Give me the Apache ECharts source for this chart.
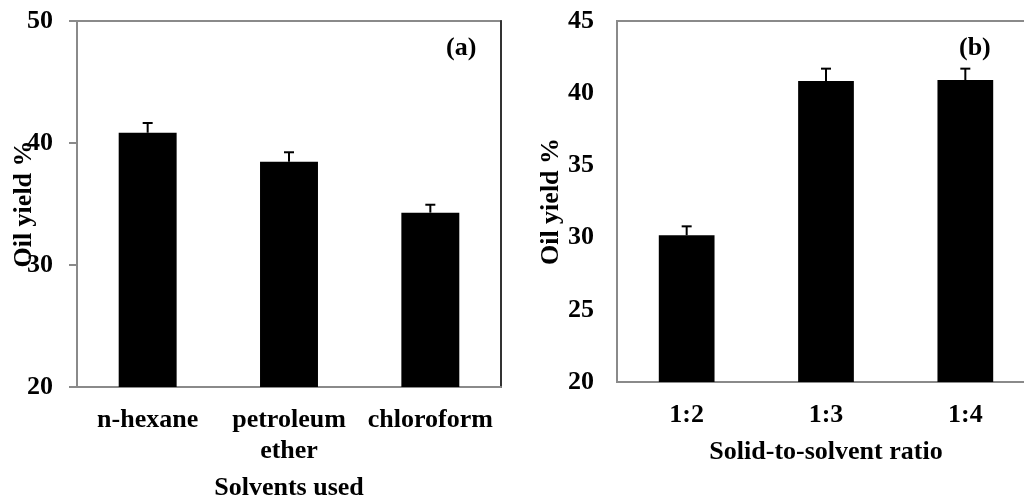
<!DOCTYPE html>
<html>
<head>
<meta charset="utf-8">
<script src="https://cdn.jsdelivr.net/npm/echarts@6/dist/echarts.min.js"></script>
<style>html,body{margin:0;padding:0;background:#fff;}#c{width:1024px;height:501px;}</style>
</head>
<body>
<div id="c"></div>
<script>
var solventCats = ['n-hexane', 'petroleum\nether', 'chloroform'];
var solventYield = [40.84, 38.47, 34.29];
var solventErr = [0.80, 0.77, 0.65];
var ratioCats = ['1:2', '1:3', '1:4'];
var ratioYield = [30.16, 40.84, 40.91];
var ratioErr = [0.62, 0.86, 0.79];
var yTicksA = [20, 30, 40, 50];
var yTicksB = [20, 25, 30, 35, 40, 45];

var FONT = '"Liberation Serif", "Times New Roman", serif';
var txt = {fontFamily: FONT, fontWeight: 'bold', fontSize: 26, color: '#000'};
var gray = '#8a8a8a';

function errData(vals, errs) {
  return vals.map(function (v, i) { return [i, v, errs[i]]; });
}
function errRender(params, api) {
  var x = api.value(0), v = api.value(1), e = api.value(2);
  var p0 = api.coord([x, v]);
  var p1 = api.coord([x, v + e]);
  var half = 5;
  return {
    type: 'group',
    children: [
      {type: 'line', shape: {x1: p0[0], y1: p0[1], x2: p1[0], y2: p1[1]}, style: {stroke: '#000', lineWidth: 2}},
      {type: 'line', shape: {x1: p1[0] - half, y1: p1[1], x2: p1[0] + half, y2: p1[1]}, style: {stroke: '#000', lineWidth: 2}}
    ]
  };
}

var chart = echarts.init(document.getElementById('c'), null, {renderer: 'canvas'});
chart.setOption({
  animation: false,
  grid: [
    {left: 77, top: 21, width: 424, height: 366, show: true, borderColor: gray, borderWidth: 2, containLabel: false, outerBoundsMode: 'none'},
    {left: 617, top: 21, width: 418, height: 361, show: true, borderColor: gray, borderWidth: 2, containLabel: false, outerBoundsMode: 'none'}
  ],
  xAxis: [
    {type: 'category', gridIndex: 0, data: solventCats,
     axisLine: {lineStyle: {color: gray, width: 2}}, axisTick: {show: false},
     axisLabel: Object.assign({margin: 18, lineHeight: 31, interval: 0}, txt),
     name: 'Solvents used', nameLocation: 'middle', nameGap: 88, nameTextStyle: txt},
    {type: 'category', gridIndex: 1, data: ratioCats,
     axisLine: {lineStyle: {color: gray, width: 2}}, axisTick: {show: false},
     axisLabel: Object.assign({margin: 18, lineHeight: 30, interval: 0}, txt),
     name: 'Solid-to-solvent ratio', nameLocation: 'middle', nameGap: 57, nameTextStyle: txt}
  ],
  yAxis: [
    {type: 'value', gridIndex: 0, min: yTicksA[0], max: yTicksA[yTicksA.length - 1], interval: 10,
     splitLine: {show: false},
     axisLine: {show: true, lineStyle: {color: gray, width: 2}},
     axisTick: {show: true, inside: false, length: 8, lineStyle: {color: gray, width: 2}},
     axisLabel: Object.assign({margin: 24}, txt),
     name: 'Oil yield %', nameLocation: 'middle', nameRotate: 90, nameGap: 40, nameMoveOverlap: false, nameTextStyle: txt},
    {type: 'value', gridIndex: 0, position: 'right', min: yTicksA[0], max: yTicksA[yTicksA.length - 1], interval: 10,
     splitLine: {show: false}, axisLabel: {show: false}, axisTick: {show: false},
     axisLine: {show: true, lineStyle: {color: '#333', width: 2}}},
    {type: 'value', gridIndex: 1, min: yTicksB[0], max: yTicksB[yTicksB.length - 1], interval: 5,
     splitLine: {show: false},
     axisLine: {show: true, lineStyle: {color: gray, width: 2}},
     axisTick: {show: false},
     axisLabel: Object.assign({margin: 23}, txt),
     name: 'Oil yield %', nameLocation: 'middle', nameRotate: 90, nameGap: 53, nameMoveOverlap: false, nameTextStyle: txt}
  ],
  graphic: [
    {type: 'text', left: 446, top: 35, style: {text: '(a)', font: 'bold 26px ' + FONT, fill: '#000'}},
    {type: 'text', left: 959, top: 35, style: {text: '(b)', font: 'bold 26px ' + FONT, fill: '#000'}}
  ],
  series: [
    {type: 'bar', xAxisIndex: 0, yAxisIndex: 0, data: solventYield, barWidth: '41%', itemStyle: {color: '#000'}},
    {type: 'custom', xAxisIndex: 0, yAxisIndex: 0, data: errData(solventYield, solventErr), renderItem: errRender, z: 3},
    {type: 'bar', xAxisIndex: 1, yAxisIndex: 2, data: ratioYield, barWidth: '40%', itemStyle: {color: '#000'}},
    {type: 'custom', xAxisIndex: 1, yAxisIndex: 2, data: errData(ratioYield, ratioErr), renderItem: errRender, z: 3}
  ]
});
</script>
</body>
</html>
